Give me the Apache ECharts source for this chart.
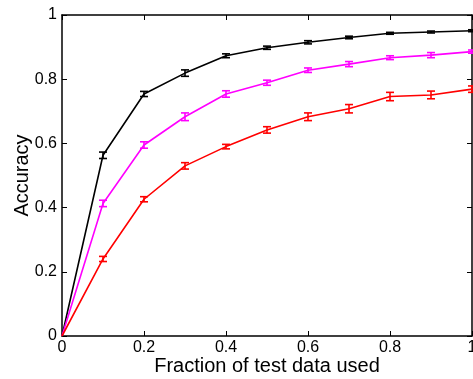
<!DOCTYPE html>
<html>
<head>
<meta charset="utf-8">
<script src="https://cdn.jsdelivr.net/npm/echarts@6/dist/echarts.min.js"></script>
<style>
  html, body { margin: 0; padding: 0; background: #fff; }
  #chart { width: 473px; height: 379px; }
</style>
</head>
<body>
<div id="chart"></div>
<script>
// fraction of test data used
var fractions = [0, 0.1, 0.2, 0.3, 0.4, 0.5, 0.6, 0.7, 0.8, 0.9, 1.0];

// accuracy per method, with error bar half-widths
var blackAcc = [0, 0.563, 0.754, 0.819, 0.873, 0.898, 0.915, 0.930, 0.943, 0.947, 0.951];
var blackErr = [0, 0.010, 0.008, 0.010, 0.006, 0.005, 0.005, 0.004, 0.003, 0.003, 0.003];
var magentaAcc = [0, 0.413, 0.595, 0.683, 0.754, 0.789, 0.828, 0.847, 0.867, 0.875, 0.886];
var magentaErr = [0, 0.010, 0.010, 0.012, 0.010, 0.008, 0.007, 0.008, 0.006, 0.008, 0.005];
var redAcc = [0, 0.240, 0.426, 0.530, 0.590, 0.642, 0.683, 0.708, 0.746, 0.751, 0.769];
var redErr = [0, 0.008, 0.008, 0.010, 0.007, 0.010, 0.012, 0.013, 0.013, 0.012, 0.010];

function pairs(ys) {
  return fractions.map(function (x, i) { return [x, ys[i]]; });
}
function bars(ys, errs) {
  var out = [];
  for (var i = 1; i < fractions.length; i++) {
    out.push([fractions[i], ys[i] - errs[i], ys[i] + errs[i]]);
  }
  return out;
}

function errorBarRender(color) {
  return function (params, api) {
    var lo = api.coord([api.value(0), api.value(1)]);
    var hi = api.coord([api.value(0), api.value(2)]);
    var w = 4;
    var style = { stroke: color, lineWidth: 1.6 };
    return {
      type: 'group',
      children: [
        { type: 'line', shape: { x1: lo[0], y1: lo[1], x2: hi[0], y2: hi[1] }, style: style },
        { type: 'line', shape: { x1: lo[0] - w, y1: lo[1], x2: lo[0] + w, y2: lo[1] }, style: style },
        { type: 'line', shape: { x1: hi[0] - w, y1: hi[1], x2: hi[0] + w, y2: hi[1] }, style: style }
      ]
    };
  };
}

var font = 'Liberation Sans, Arial, sans-serif';
var axisLine = { show: true, onZero: false, lineStyle: { color: '#000', width: 1.5 } };
var axisTick = { show: true, inside: true, length: 5, lineStyle: { color: '#000', width: 1 } };

var chart = echarts.init(document.getElementById('chart'), null, { renderer: 'canvas' });

function lineSeries(ys, color) {
  return {
    type: 'line',
    data: pairs(ys),
    symbol: 'none',
    lineStyle: { color: color, width: 1.6 },
    itemStyle: { color: color },
    z: 3,
    animation: false
  };
}
function barSeries(ys, errs, color) {
  return {
    type: 'custom',
    data: bars(ys, errs),
    renderItem: errorBarRender(color),
    encode: { x: 0, y: [1, 2] },
    z: 4,
    animation: false
  };
}

chart.setOption({
  backgroundColor: '#fff',
  animation: false,
  grid: { left: 62, right: 1, top: 15, bottom: 43, containLabel: false, outerBoundsMode: 'none' },
  xAxis: [{
    type: 'value', min: 0, max: 1, interval: 0.2,
    position: 'bottom',
    name: 'Fraction of test data used',
    nameLocation: 'middle', nameGap: 20, nameMoveOverlap: false,
    nameTextStyle: { fontFamily: font, fontSize: 20, color: '#000' },
    axisLine: axisLine, axisTick: axisTick, splitLine: { show: false },
    axisLabel: { fontFamily: font, fontSize: 16, color: '#000', margin: 4 }
  }, {
    type: 'value', min: 0, max: 1, interval: 0.2,
    position: 'top',
    axisLine: axisLine, axisTick: axisTick, splitLine: { show: false },
    axisLabel: { show: false }
  }],
  yAxis: [{
    type: 'value', min: 0, max: 1, interval: 0.2,
    position: 'left',
    name: 'Accuracy',
    nameLocation: 'middle', nameGap: 30, nameRotate: 90, nameMoveOverlap: false,
    nameTextStyle: { fontFamily: font, fontSize: 20, color: '#000' },
    axisLine: axisLine, axisTick: axisTick, splitLine: { show: false },
    axisLabel: { fontFamily: font, fontSize: 16, color: '#000', margin: 5 }
  }, {
    type: 'value', min: 0, max: 1, interval: 0.2,
    position: 'right',
    axisLine: axisLine, axisTick: axisTick, splitLine: { show: false },
    axisLabel: { show: false }
  }],
  series: [
    lineSeries(blackAcc, '#000000'),
    barSeries(blackAcc, blackErr, '#000000'),
    lineSeries(magentaAcc, '#ff00ff'),
    barSeries(magentaAcc, magentaErr, '#ff00ff'),
    lineSeries(redAcc, '#ff0000'),
    barSeries(redAcc, redErr, '#ff0000')
  ]
});
</script>
</body>
</html>
